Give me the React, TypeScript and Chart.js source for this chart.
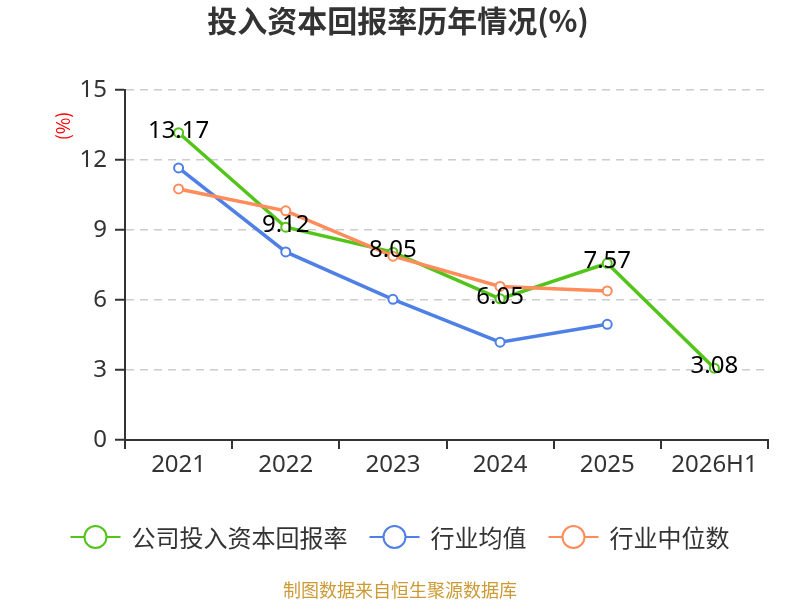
import React, { useEffect, useRef } from 'react';
import { Chart, registerables } from 'chart.js';

Chart.register(...registerables);

const years = ['2021', '2022', '2023', '2024', '2025', '2026H1'];
const companyRoic = [13.17, 9.12, 8.05, 6.05, 7.57, 3.08];
const industryAvg = [11.66, 8.06, 6.03, 4.19, 4.96, null];
const industryMedian = [10.76, 9.82, 7.88, 6.58, 6.39, null];
const yTicks = [0, 3, 6, 9, 12, 15];

const GREEN = '#52c41a';
const BLUE = '#4e80e6';
const ORANGE = '#ff8c5a';
const FONT = "'Noto Sans', 'Noto Sans CJK SC', sans-serif";
const CJK = "'Noto Sans CJK SC', 'Noto Sans', sans-serif";

const legendItems = [
  { label: '公司投入资本回报率', color: GREEN },
  { label: '行业均值', color: BLUE },
  { label: '行业中位数', color: ORANGE },
];

// title, legend, footer, unit and value labels
const decorPlugin = {
  id: 'decor',
  afterDatasetsDraw(chart: any) {
    const ctx = chart.ctx;
    const meta = chart.getDatasetMeta(0);
    ctx.save();
    ctx.font = `24px ${FONT}`;
    ctx.fillStyle = '#000';
    ctx.textAlign = 'center';
    ctx.textBaseline = 'middle';
    meta.data.forEach((pt: any, i: number) => {
      ctx.fillText(companyRoic[i].toFixed(2), pt.x, pt.y - 2);
    });
    ctx.restore();
  },
  afterDraw(chart: any) {
    const ctx = chart.ctx;
    ctx.save();
    // title
    ctx.font = `bold 30px ${CJK}`;
    ctx.fillStyle = '#333';
    ctx.textAlign = 'center';
    ctx.textBaseline = 'middle';
    ctx.fillText('投入资本回报率历年情况(%)', 398, 21);

    // unit
    ctx.save();
    ctx.translate(63, 126);
    ctx.rotate(-Math.PI / 2);
    ctx.font = `18px ${CJK}`;
    ctx.fillStyle = '#ff0000';
    ctx.fillText('(%)', 0, 0);
    ctx.restore();

    // legend
    ctx.font = `24px ${CJK}`;
    const lineW = 50;
    const gap = 11;
    const itemGap = 22;
    const widths = legendItems.map((it) => lineW + gap + ctx.measureText(it.label).width);
    const total = widths.reduce((a, b) => a + b, 0) + itemGap * (legendItems.length - 1);
    let x = (800 - total) / 2;
    const y = 537;
    legendItems.forEach((it, i) => {
      ctx.strokeStyle = it.color;
      ctx.lineWidth = 2;
      ctx.beginPath();
      ctx.moveTo(x, y);
      ctx.lineTo(x + lineW, y);
      ctx.stroke();
      ctx.beginPath();
      ctx.arc(x + lineW / 2, y, 11, 0, Math.PI * 2);
      ctx.fillStyle = '#fff';
      ctx.fill();
      ctx.stroke();
      ctx.fillStyle = '#333';
      ctx.textAlign = 'left';
      ctx.fillText(it.label, x + lineW + gap, y + 1);
      x += widths[i] + itemGap;
    });

    // footer
    ctx.font = `18px ${CJK}`;
    ctx.fillStyle = '#cc9a35';
    ctx.textAlign = 'center';
    ctx.fillText('制图数据来自恒生聚源数据库', 400, 590);
    ctx.restore();
  },
};

const ChartView = () => {
  const canvasRef = useRef<HTMLCanvasElement>(null);
  const chartRef = useRef<Chart | null>(null);

  useEffect(() => {
    document.body.style.margin = '0';
    if (!canvasRef.current) return;
    if (chartRef.current) chartRef.current.destroy();

    const line = (label: string, data: (number | null)[], color: string, order: number) => ({
      label,
      data,
      borderColor: color,
      backgroundColor: color,
      borderWidth: 3.5,
      pointRadius: 4.5,
      pointBorderWidth: 2,
      pointBackgroundColor: '#fff',
      pointBorderColor: color,
      tension: 0,
      order,
    });

    chartRef.current = new Chart(canvasRef.current, {
      type: 'line',
      data: {
        labels: years,
        datasets: [
          line('公司投入资本回报率', companyRoic, GREEN, 3),
          line('行业均值', industryAvg, BLUE, 2),
          line('行业中位数', industryMedian, ORANGE, 1),
        ],
      },
      options: {
        responsive: false,
        animation: false,
        layout: { padding: { top: 90, right: 32, bottom: 100, left: 0 } },
        plugins: {
          legend: { display: false },
          tooltip: { enabled: false },
          title: { display: false },
        },
        scales: {
          x: {
            offset: true,
            afterFit: (s: any) => { s.height = 60; },
            grid: {
              offset: true,
              drawOnChartArea: false,
              color: '#333',
              tickLength: 9,
              lineWidth: 2,
            },
            border: { display: true, color: '#333', width: 2 },
            ticks: { color: '#333', font: { size: 24, family: FONT }, padding: 2 },
          },
          y: {
            min: 0,
            max: 15,
            afterFit: (s: any) => { s.width = 125; },
            afterBuildTicks: (s: any) => { s.ticks = yTicks.map((v) => ({ value: v })); },
            grid: {
              color: '#cccccc',
              lineWidth: 1.5,
              tickColor: '#333',
              tickLength: 10,
              tickWidth: 2,
              tickBorderDash: [],
            },
            border: { display: true, color: '#333', width: 2, dash: [8, 6] },
            ticks: { color: '#333', font: { size: 24, family: FONT }, padding: 8 },
          },
        },
      },
      plugins: [decorPlugin],
    });

    return () => {
      if (chartRef.current) {
        chartRef.current.destroy();
        chartRef.current = null;
      }
    };
  }, []);

  return (
    <div style={{ width: 800, height: 600, background: '#fff' }}>
      <canvas ref={canvasRef} width={800} height={600} />
    </div>
  );
};

export default function App() {
  return <ChartView />;
}
